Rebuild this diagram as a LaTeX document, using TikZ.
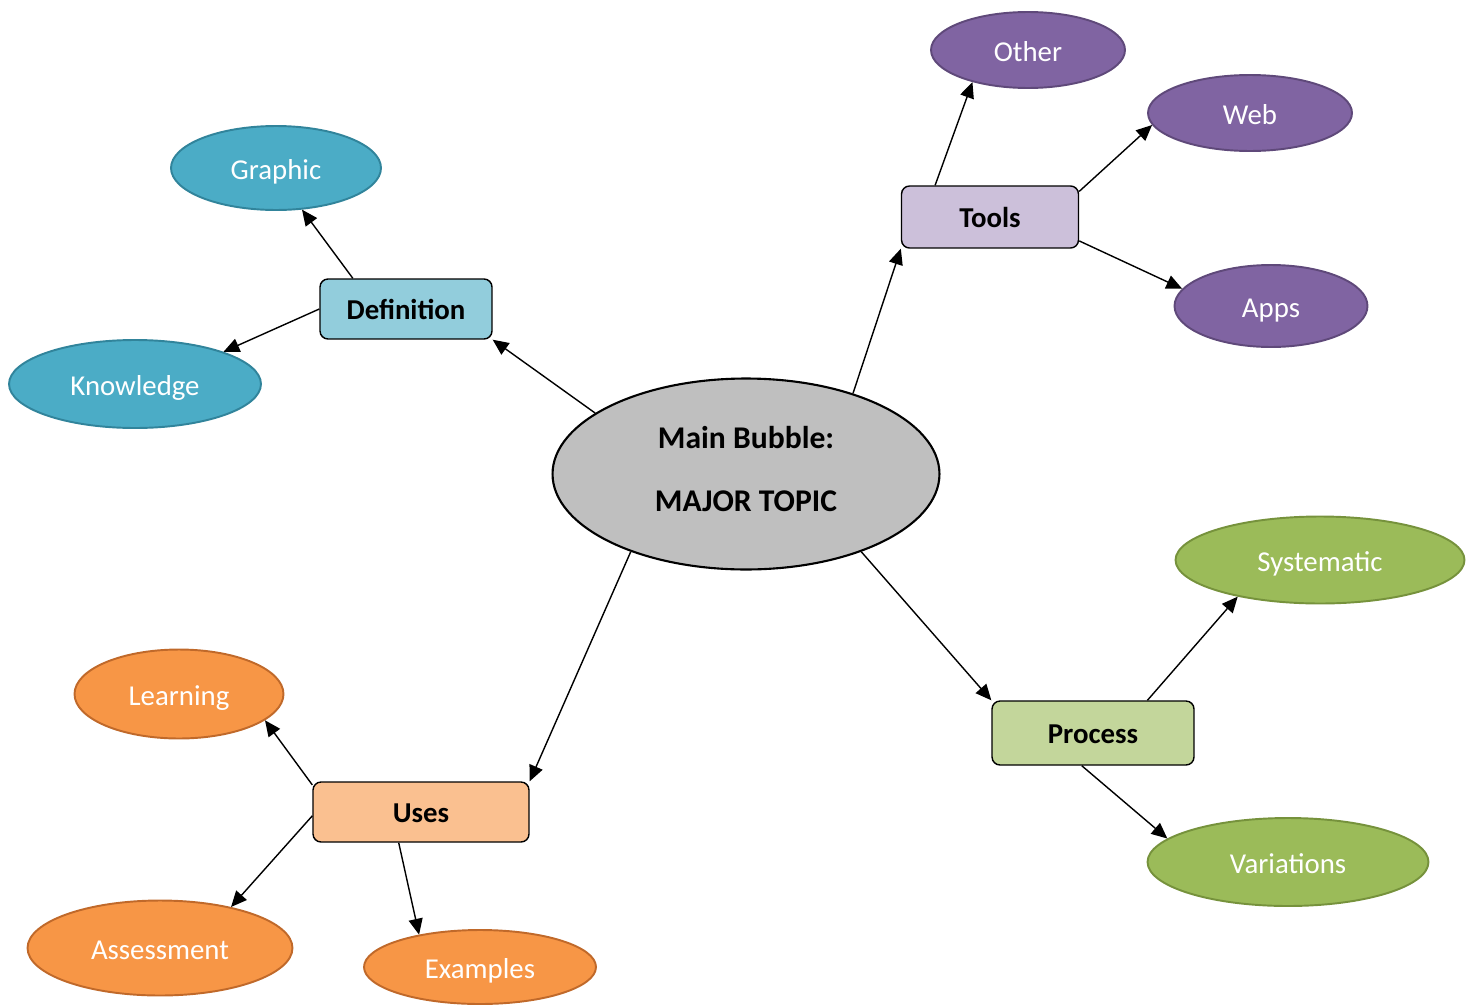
\documentclass[tikz,border=0pt]{standalone}
\usepackage{fontspec}
\setmainfont{Carlito}
\usetikzlibrary{arrows.meta,shapes.geometric}
\definecolor{maingray}{HTML}{BFBFBF}
\definecolor{defbox}{HTML}{92CDDC}
\definecolor{defleaf}{HTML}{4BACC6}
\definecolor{defline}{HTML}{31849B}
\definecolor{toolbox}{HTML}{CCC0DA}
\definecolor{toolleaf}{HTML}{8064A2}
\definecolor{toolline}{HTML}{5F497A}
\definecolor{procbox}{HTML}{C3D69B}
\definecolor{procleaf}{HTML}{9BBB59}
\definecolor{procline}{HTML}{76923C}
\definecolor{usebox}{HTML}{FAC090}
\definecolor{useleaf}{HTML}{F79646}
\definecolor{useline}{HTML}{C0692A}
\tikzset{font=\fontsize{16.4}{20}\selectfont}
\tikzset{leaf/.style={ellipse,draw,line width=1.1pt,text=white,inner sep=0pt,
    text height=13pt,text depth=0pt},
  topic/.style={rectangle,rounded corners=0.16cm,draw,line width=0.8pt,
    font=\fontsize{16.4}{20}\selectfont\bfseries,inner sep=0pt,
    text height=12.5pt,text depth=0pt},
  link/.style={-{Triangle[length=9pt,width=8pt]},line width=0.8pt}}

\begin{document}
\begin{tikzpicture}[x=0.02cm,y=-0.02cm]
\useasboundingbox (0,0) rectangle (1473,1004);
% centre
\node[ellipse,draw,line width=1.2pt,fill=maingray,inner sep=0pt,
  minimum width=7.74cm,minimum height=3.82cm,align=center,text depth=6pt,
  font=\fontsize{18}{22}\selectfont\bfseries] (main) at (746,474)
  {Main Bubble:\\[14pt]MAJOR TOPIC};
% definition
\node[topic,fill=defbox,minimum width=3.44cm,minimum height=1.2cm] (def) at (406,309) {Definition};
\node[leaf,fill=defleaf,draw=defline,minimum width=4.2cm,minimum height=1.68cm] (graphic) at (276,168) {Graphic};
\node[leaf,fill=defleaf,draw=defline,minimum width=5.04cm,minimum height=1.76cm] (knowledge) at (135,384) {Knowledge};
% tools
\node[topic,fill=toolbox,minimum width=3.54cm,minimum height=1.24cm] (tools) at (990,217) {Tools};
\node[leaf,fill=toolleaf,draw=toolline,minimum width=3.88cm,minimum height=1.52cm] (other) at (1028,50) {Other};
\node[leaf,fill=toolleaf,draw=toolline,minimum width=4.08cm,minimum height=1.52cm] (web) at (1250,113) {Web};
\node[leaf,fill=toolleaf,draw=toolline,minimum width=3.86cm,minimum height=1.64cm] (apps) at (1271,306) {Apps};
% process
\node[topic,fill=procbox,minimum width=4.04cm,minimum height=1.28cm] (process) at (1093,733) {Process};
\node[leaf,fill=procleaf,draw=procline,minimum width=5.78cm,minimum height=1.74cm] (systematic) at (1320,560) {Systematic};
\node[leaf,fill=procleaf,draw=procline,minimum width=5.62cm,minimum height=1.76cm] (variations) at (1288,862) {Variations};
% uses
\node[topic,fill=usebox,minimum width=4.32cm,minimum height=1.2cm] (uses) at (421,812) {Uses};
\node[leaf,fill=useleaf,draw=useline,minimum width=4.18cm,minimum height=1.78cm] (learning) at (179,694) {Learning};
\node[leaf,fill=useleaf,draw=useline,minimum width=5.3cm,minimum height=1.9cm] (assessment) at (160,948) {Assessment};
\node[leaf,fill=useleaf,draw=useline,minimum width=4.64cm,minimum height=1.48cm] (examples) at (480,967) {Examples};
% arrows
\draw[link] (main.158) -- (def.south east);
\draw[link] (main.37) -- (tools.south west);
\draw[link] (main.-34) -- (process.north west);
\draw[link] (main.214) -- (uses.north east);
\draw[link] (def.150) -- (graphic.-58);
\draw[link] (def.west) -- (knowledge.20);
\draw[link] (tools.150) -- (other.-150);
\draw[link] (tools.16) -- (web.187);
\draw[link] (tools.-15) -- (apps.169);
\draw[link] (process.31) -- (systematic.204);
\draw[link] (process.-109) -- (variations.169);
\draw[link] (uses.166) -- (learning.-17);
\draw[link] (uses.182) -- (assessment.30);
\draw[link] (uses.-126) -- (examples.152);
\end{tikzpicture}
\end{document}
